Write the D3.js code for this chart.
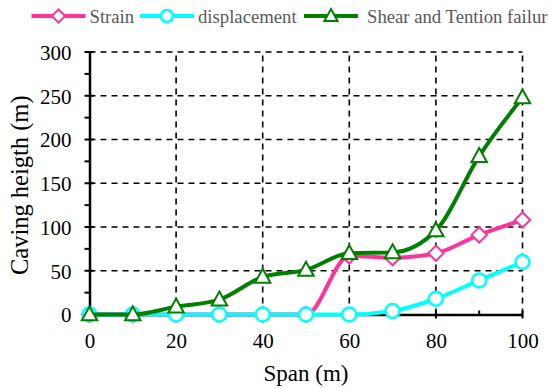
<!DOCTYPE html>
<html>
<head>
<meta charset="utf-8">
<script src="https://cdn.jsdelivr.net/npm/d3@7"></script>
<style>
  html, body { margin: 0; padding: 0; background: #fff; }
  svg { display: block; }
</style>
</head>
<body>
<svg id="chart" width="549" height="388" font-family="Liberation Serif"></svg>
<script>
// Span positions (m)
const spans = [0, 10, 20, 30, 40, 50, 60, 70, 80, 90, 100];
// Caving height (m) by criterion
const strain = [0, 0, 0, 0, 0, 0, 67, 65, 70, 91, 108];
const displacement = [0, 0, 0, 0, 0, 0, 0, 4, 18, 39, 60];
const shearTension = [0, 0, 9, 17, 43, 51, 70, 71, 96, 181, 248];

const seriesNames = ["Strain", "displacement", "Shear and Tention failur"];
const xTicks = [0, 20, 40, 60, 80, 100];
const yTicks = [0, 50, 100, 150, 200, 250, 300];

const FONT = "Liberation Serif";

const series = [
  { name: seriesNames[0], values: strain, color: "#ff3399", marker: "diamond" },
  { name: seriesNames[1], values: displacement, color: "#00ffff", marker: "circle" },
  { name: seriesNames[2], values: shearTension, color: "#008000", marker: "triangle" }
];

const svg = d3.select("#chart");
const x = d3.scaleLinear().domain([0, 100]).range([89.5, 522.5]);
const y = d3.scaleLinear().domain([0, 300]).range([314.5, 52]);

// dashed grid
const grid = svg.append("g");
grid.selectAll("line.h").data(yTicks.filter(d => d > 0)).join("line")
  .attr("x1", x(0)).attr("x2", x(100))
  .attr("y1", d => y(d)).attr("y2", d => y(d))
  .attr("stroke", "#000").attr("stroke-width", 1.6).attr("stroke-dasharray", "6,5");
grid.selectAll("line.v").data(xTicks.filter(d => d > 0)).join("line")
  .attr("y1", y(0)).attr("y2", y(300))
  .attr("x1", d => x(d)).attr("x2", d => x(d))
  .attr("stroke", "#000").attr("stroke-width", 1.6).attr("stroke-dasharray", "6,5");

// axes
const xAxis = d3.axisBottom(x).tickValues(xTicks).tickSize(0).tickPadding(18.5);
const yAxis = d3.axisLeft(y).tickValues(yTicks).tickSize(0).tickPadding(18);
const gx = svg.append("g").attr("transform", `translate(0,${y(0)})`).call(xAxis);
const gy = svg.append("g").attr("transform", `translate(${x(0)},0)`).call(yAxis);
[gx, gy].forEach(g => {
  g.attr("font-family", FONT).attr("font-size", 21);
  g.select(".domain").attr("stroke", "#000").attr("stroke-width", 2.5);
  g.selectAll("text").attr("font-size", 21).attr("fill", "#000").attr("font-family", FONT);
});
gy.selectAll(".tick text").attr("dy", "0.35em");

// tick marks: major ticks cross the axis, minor ticks sit on one side
const ticks = svg.append("g").attr("stroke", "#000").attr("stroke-width", 2);
ticks.selectAll("line.xm").data(xTicks).join("line")
  .attr("x1", d => x(d)).attr("x2", d => x(d))
  .attr("y1", y(0) - 4).attr("y2", y(0) + 4);
ticks.selectAll("line.xn").data(d3.range(10, 100, 20)).join("line")
  .attr("x1", d => x(d)).attr("x2", d => x(d))
  .attr("y1", y(0) - 4).attr("y2", y(0));
ticks.selectAll("line.ym").data(yTicks).join("line")
  .attr("y1", d => y(d)).attr("y2", d => y(d))
  .attr("x1", x(0) - 5).attr("x2", x(0) + 4);
ticks.selectAll("line.yn").data(d3.range(25, 300, 50)).join("line")
  .attr("y1", d => y(d)).attr("y2", d => y(d))
  .attr("x1", x(0) - 5).attr("x2", x(0));

// axis titles
svg.append("text").attr("x", (x(0) + x(100)) / 2).attr("y", 381)
  .attr("text-anchor", "middle").attr("font-size", 23).attr("font-family", FONT)
  .text("Span (m)");
svg.append("text").attr("transform", `translate(27.5,${(y(0) + y(300)) / 2 + 2}) rotate(-90)`)
  .attr("text-anchor", "middle").attr("font-size", 24.5).attr("font-family", FONT)
  .text("Caving heigth (m)");

// markers
function drawMarker(g, type, color, size) {
  if (type === "circle") {
    g.append("circle").attr("r", size * 0.5).attr("fill", "#fff")
      .attr("stroke", color).attr("stroke-width", 2.5);
  } else if (type === "diamond") {
    const s = size * 0.55;
    g.append("path").attr("d", `M0,${-s}L${s},0L0,${s}L${-s},0Z`)
      .attr("fill", "#fff").attr("stroke", color).attr("stroke-width", 2);
  } else {
    const s = size * 0.55;
    g.append("path").attr("d", `M0,${-s * 1.05}L${s},${s * 0.75}L${-s},${s * 0.75}Z`)
      .attr("fill", "#fff").attr("stroke", color).attr("stroke-width", 2);
  }
}

const line = d3.line().curve(d3.curveMonotoneX);
series.forEach(s => {
  const pts = spans.map((d, i) => [x(d), y(s.values[i])]);
  svg.append("path").attr("d", line(pts)).attr("fill", "none")
    .attr("stroke", s.color).attr("stroke-width", 4).attr("stroke-linejoin", "round");
  spans.forEach((d, i) => {
    const g = svg.append("g").attr("transform", `translate(${x(d)},${y(s.values[i])})`);
    drawMarker(g, s.marker, s.color, 14);
  });
});

// legend
const legendX = [31.5, 140, 304];
const legendGap = [4, 4, 9];
series.forEach((s, i) => {
  const g = svg.append("g").attr("transform", `translate(${legendX[i]},16)`);
  g.append("line").attr("x1", 0).attr("x2", 54).attr("stroke", s.color).attr("stroke-width", 4);
  const m = g.append("g").attr("transform", "translate(27,0)");
  drawMarker(m, s.marker, s.color, 12);
  g.append("text").attr("x", 54 + legendGap[i]).attr("y", 0).attr("dy", "0.35em")
    .attr("font-size", 18.7).attr("fill", "#595959").attr("font-family", FONT)
    .text(s.name);
});
</script>
</body>
</html>
